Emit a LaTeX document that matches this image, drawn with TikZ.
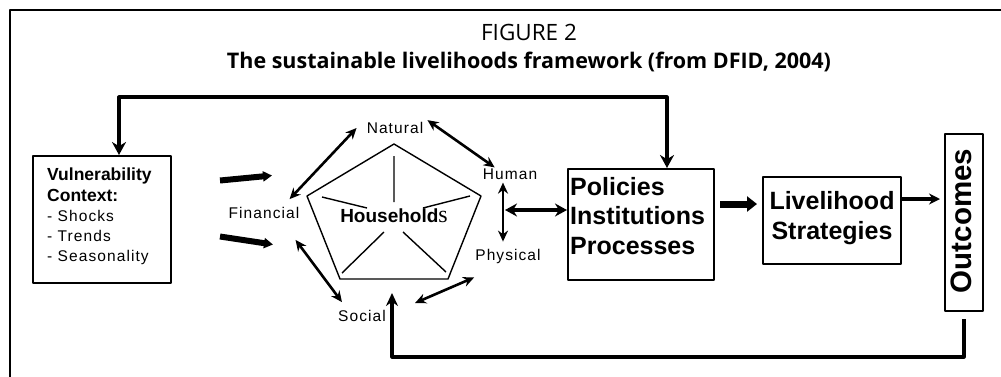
\documentclass[tikz,border=0pt]{standalone}
\usepackage{fontspec}
\setmainfont{Liberation Sans}
\newfontfamily\titlefont{Open Sans}
\newfontfamily\widefont[LetterSpace=7]{Liberation Sans}
\newfontfamily\serifs{Liberation Serif}
\usetikzlibrary{arrows.meta,calc}
\begin{document}
\begin{tikzpicture}[x=1pt,y=-1pt,line join=round,
	box/.style={draw,line width=2pt,inner sep=0pt},
	asset/.style={font=\widefont\fontsize{15.5}{18}\selectfont,inner sep=0pt},
	link/.style={{Stealth[length=11pt,width=10pt]}-{Stealth[length=11pt,width=10pt]},line width=2.6pt},
	fat/.style={-{Triangle[length=9pt,width=10pt]},line width=6pt},
	feed/.style={line width=3.2pt}]
	\useasboundingbox (0,0) rectangle (1001,376);
	\draw[line width=2pt] (10,10) rectangle (1030,400);
	\node[font=\titlefont\fontsize{22.5}{24}\selectfont] (fig) at (529,32) {FIGURE 2};
	\node[font=\titlefont\bfseries\fontsize{21.5}{24}\selectfont] (title) at (529,61.5) {The sustainable livelihoods framework (from DFID, 2004)};
	% vulnerability context
	\node[box,minimum width=138,minimum height=127,anchor=north west] (vul) at (32,155) {};
	\node[anchor=north west,align=left,inner sep=0pt,font=\widefont\fontsize{15.5}{20.2}\selectfont] (vultxt) at (47,168)
	{{\normalfont\bfseries\fontsize{17.5}{20.2}\selectfont Vulnerability}\\{\normalfont\bfseries\fontsize{17.5}{20.2}\selectfont Context:}\\- Shocks\\- Trends\\- Seasonality};
	% assets pentagon
	\coordinate (p1) at (394,144);
	\coordinate (p2) at (481,196);
	\coordinate (p3) at (448,279);
	\coordinate (p4) at (340,279);
	\coordinate (p5) at (307,196);
	\coordinate (pb) at (392,279);
	\draw[line width=1.4pt] (p1)--(p2)--(p3)--(p4)--(p5)--cycle;
	\draw[line width=1.4pt] (394,156)--(394,202) (322,197)--(367,208) (423,208)--(470,196)
	(384,232)--(342,273) (403,232)--(446,272);
	\node[font=\bfseries\fontsize{19}{20}\selectfont] (hh) at (394,216) {Household{\serifs\mdseries\fontsize{24}{20}\selectfont s}};
	\node[asset] (nat) at (395,128) {Natural};
	\node[asset] (hum) at (510,174) {Human};
	\node[asset] (fin) at (264,213) {Financial};
	\node[asset] (phy) at (508,256) {Physical};
	\node[asset] (soc) at (362,316) {Social};
	\draw[link] ([xshift=-10pt,yshift=8pt]fin.north east) -- ([xshift=-10pt]nat.west);
	\draw[link] ([xshift=4pt,yshift=2pt]nat.north east) -- ([xshift=12pt,yshift=1pt]hum.north west);
	\draw[link] ([xshift=-7pt,yshift=-3pt]hum.south) -- ([xshift=-5pt,yshift=7pt]phy.north);
	\draw[link] ([xshift=-1pt,yshift=-14pt]phy.south west) -- ([xshift=29pt,yshift=13pt]soc.east);
	\draw[link] ([xshift=-4pt,yshift=-21pt]fin.south east) -- ([xshift=4pt,yshift=8pt]soc.north west);
	\draw[fat] ([xshift=48pt,yshift=39pt]vul.east) -- ++(52,-5);
	\draw[fat] ([xshift=48pt,yshift=-17pt]vul.east) -- ++(53,8);
	% policies, strategies, outcomes
	\node[box,minimum width=146,minimum height=111,anchor=north west] (pol) at (567,168) {};
	\node[anchor=north west,align=left,inner sep=0pt,font=\bfseries\fontsize{25}{29.5}\selectfont] (poltxt) at (570,177) {Policies\\Institutions\\Processes};
	\node[box,minimum width=138,minimum height=87,anchor=north west] (liv) at (762,176) {};
	\node[align=center,inner sep=0pt,font=\bfseries\fontsize{25}{30}\selectfont] (livtxt) at ([yshift=2.5pt]liv.center) {Livelihood\\Strategies};
	\node[box,minimum width=38,minimum height=177,anchor=north west] (out) at (944,133) {};
	\node[rotate=90,inner sep=0pt,font=\bfseries\fontsize{29.5}{30}\selectfont] (outtxt) at (961,221) {Outcomes};
	\draw[{Stealth[length=12pt,width=13pt]}-{Stealth[length=12pt,width=13pt]},line width=4.5pt]
	([yshift=14.5pt]pol.west) -- ([xshift=-62pt,yshift=14.5pt]pol.west);
	\draw[-{Triangle[length=10pt,width=15pt]},line width=7pt] ([xshift=5pt,yshift=20.5pt]pol.east) -- ([xshift=-5pt,yshift=16.5pt]liv.west);
	\draw[-{Stealth[length=11pt,width=11pt]},line width=3.4pt] ([yshift=21.5pt]liv.east) -- ([xshift=-4pt,yshift=23.5pt]out.west);
	% feedback loops
	\coordinate (topfb) at (400,97);
	\coordinate (botfb) at (600,357);
	\draw[feed,{Stealth[length=13pt,width=14pt]}-{Stealth[length=13pt,width=14pt]}] ([xshift=17pt]vul.north) |- (topfb) -| ([xshift=26pt]pol.north);
	\draw[feed,-{Stealth[length=13pt,width=12pt]}] ([yshift=-7pt]out.south) |- (botfb) -| ([yshift=-14pt]pb);
\end{tikzpicture}
\end{document}
